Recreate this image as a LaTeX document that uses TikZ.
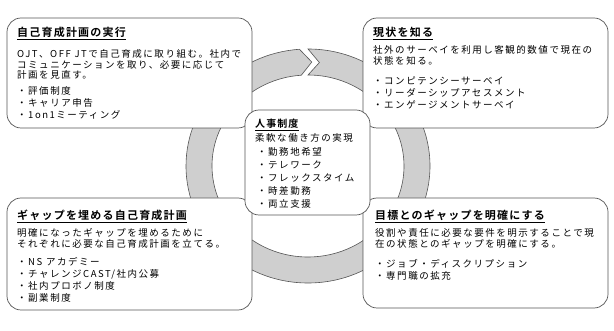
\documentclass[tikz,border=0pt]{standalone}
\usepackage{fontspec}
\setmainfont{Noto Sans CJK JP}[LetterSpace=16]
\newfontfamily\titlefont{Noto Sans CJK JP Bold}[LetterSpace=11]
\usetikzlibrary{positioning, calc}
\definecolor{ringGray}{HTML}{CFCFCF}
\definecolor{edgeGray}{HTML}{555555}

\begin{document}
\begin{tikzpicture}[x=1pt, y=1pt,
    panel/.style={draw=edgeGray, fill=white, line width=0.7pt, rounded corners=14pt,
      inner sep=0pt, outer sep=0pt},
    ttl/.style={anchor=base west, inner sep=0pt, font=\titlefont\fontsize{11}{13}\selectfont},
    txt/.style={anchor=base west, inner sep=0pt, text width=235pt, align=left,
      font=\fontsize{9.5}{10.7}\selectfont},
    lst/.style={txt, font=\fontsize{9.5}{12}\selectfont}]
    \useasboundingbox (0,0) rectangle (614,-331);
    % --- cycle ring with chevron gap at the top ---
    \coordinate (ringc) at (308,-166);
    \draw[draw=edgeGray, fill=ringGray, line width=0.6pt]
      ($(ringc)+(90:122 and 117)$) arc[start angle=90, end angle=-266, x radius=122, y radius=117]
      -- ($(ringc)+(-272:109 and 104)$)
      -- ($(ringc)+(-266:96 and 91)$)
      arc[start angle=-266, end angle=90, x radius=96, y radius=91]
      -- ($(ringc)+(84:109 and 104)$) -- cycle;
    % --- four panels and the centre one ---
    \node[panel, minimum width=245pt, minimum height=110pt] (jikko) at (129.5,-73) {};
    \node[panel, minimum width=245pt, minimum height=110pt] (genjo) at (485.5,-73) {};
    \node[panel, minimum width=245pt, minimum height=112pt] (umeru) at (129.5,-254) {};
    \node[panel, minimum width=245pt, minimum height=110pt] (meikaku) at (485.5,-253) {};
    \node[panel, minimum width=125pt, minimum height=105pt] (jinji) at (307.5,-162.5) {};
    % --- top left ---
    \node[ttl] (jikko-t) at (17,-37) {\underline{自己育成計画の実行}};
    \node[txt] (jikko-b) at (17,-57.5) {OJT、OFF\hspace{0.4em}JTで自己育成に取り組む。社内で\\コミュニケーションを取り、必要に応じて\\計画を見直す。};
    \node[lst] (jikko-l) at (17,-95) {・評価制度\\・キャリア申告\\・1on1ミーティング};
    % --- top right ---
    \node[ttl] (genjo-t) at (373,-37) {\underline{現状を知る}};
    \node[txt] (genjo-b) at (373,-53.5) {社外のサーベイを利用し客観的数値で現在の\\状態を知る。};
    \node[lst] (genjo-l) at (373,-85) {・コンピテンシーサーベイ\\・リーダーシップアセスメント\\・エンゲージメントサーベイ};
    % --- bottom left ---
    \node[ttl] (umeru-t) at (17,-220) {\underline{ギャップを埋める自己育成計画}};
    \node[txt] (umeru-b) at (17,-237) {明確になったギャップを埋めるために\\それぞれに必要な自己育成計画を立てる。};
    \node[lst] (umeru-l) at (17,-265.5) {・NS\hspace{0.4em}アカデミー\\・チャレンジCAST/社内公募\\・社内プロボノ制度\\・副業制度};
    % --- bottom right ---
    \node[ttl] (meikaku-t) at (375,-220) {\underline{目標とのギャップを明確にする}};
    \node[txt] (meikaku-b) at (375,-236.5) {役割や責任に必要な要件を明示することで現\\在の状態とのギャップを明確にする。};
    \node[lst] (meikaku-l) at (375,-268) {・ジョブ・ディスクリプション\\・専門職の拡充};
    % --- centre ---
    \node[ttl, font=\titlefont\fontsize{10}{12}\selectfont] (jinji-t) at (255,-127.5) {\underline{人事制度}};
    \node[txt, text width=110pt] (jinji-b) at (255,-142) {柔軟な働き方の実現};
    \node[lst, text width=110pt, font=\fontsize{9.5}{12.9}\selectfont] (jinji-l) at (257,-155.5) {・勤務地希望\\・テレワーク\\・フレックスタイム\\・時差勤務\\・両立支援};
\end{tikzpicture}
\end{document}
